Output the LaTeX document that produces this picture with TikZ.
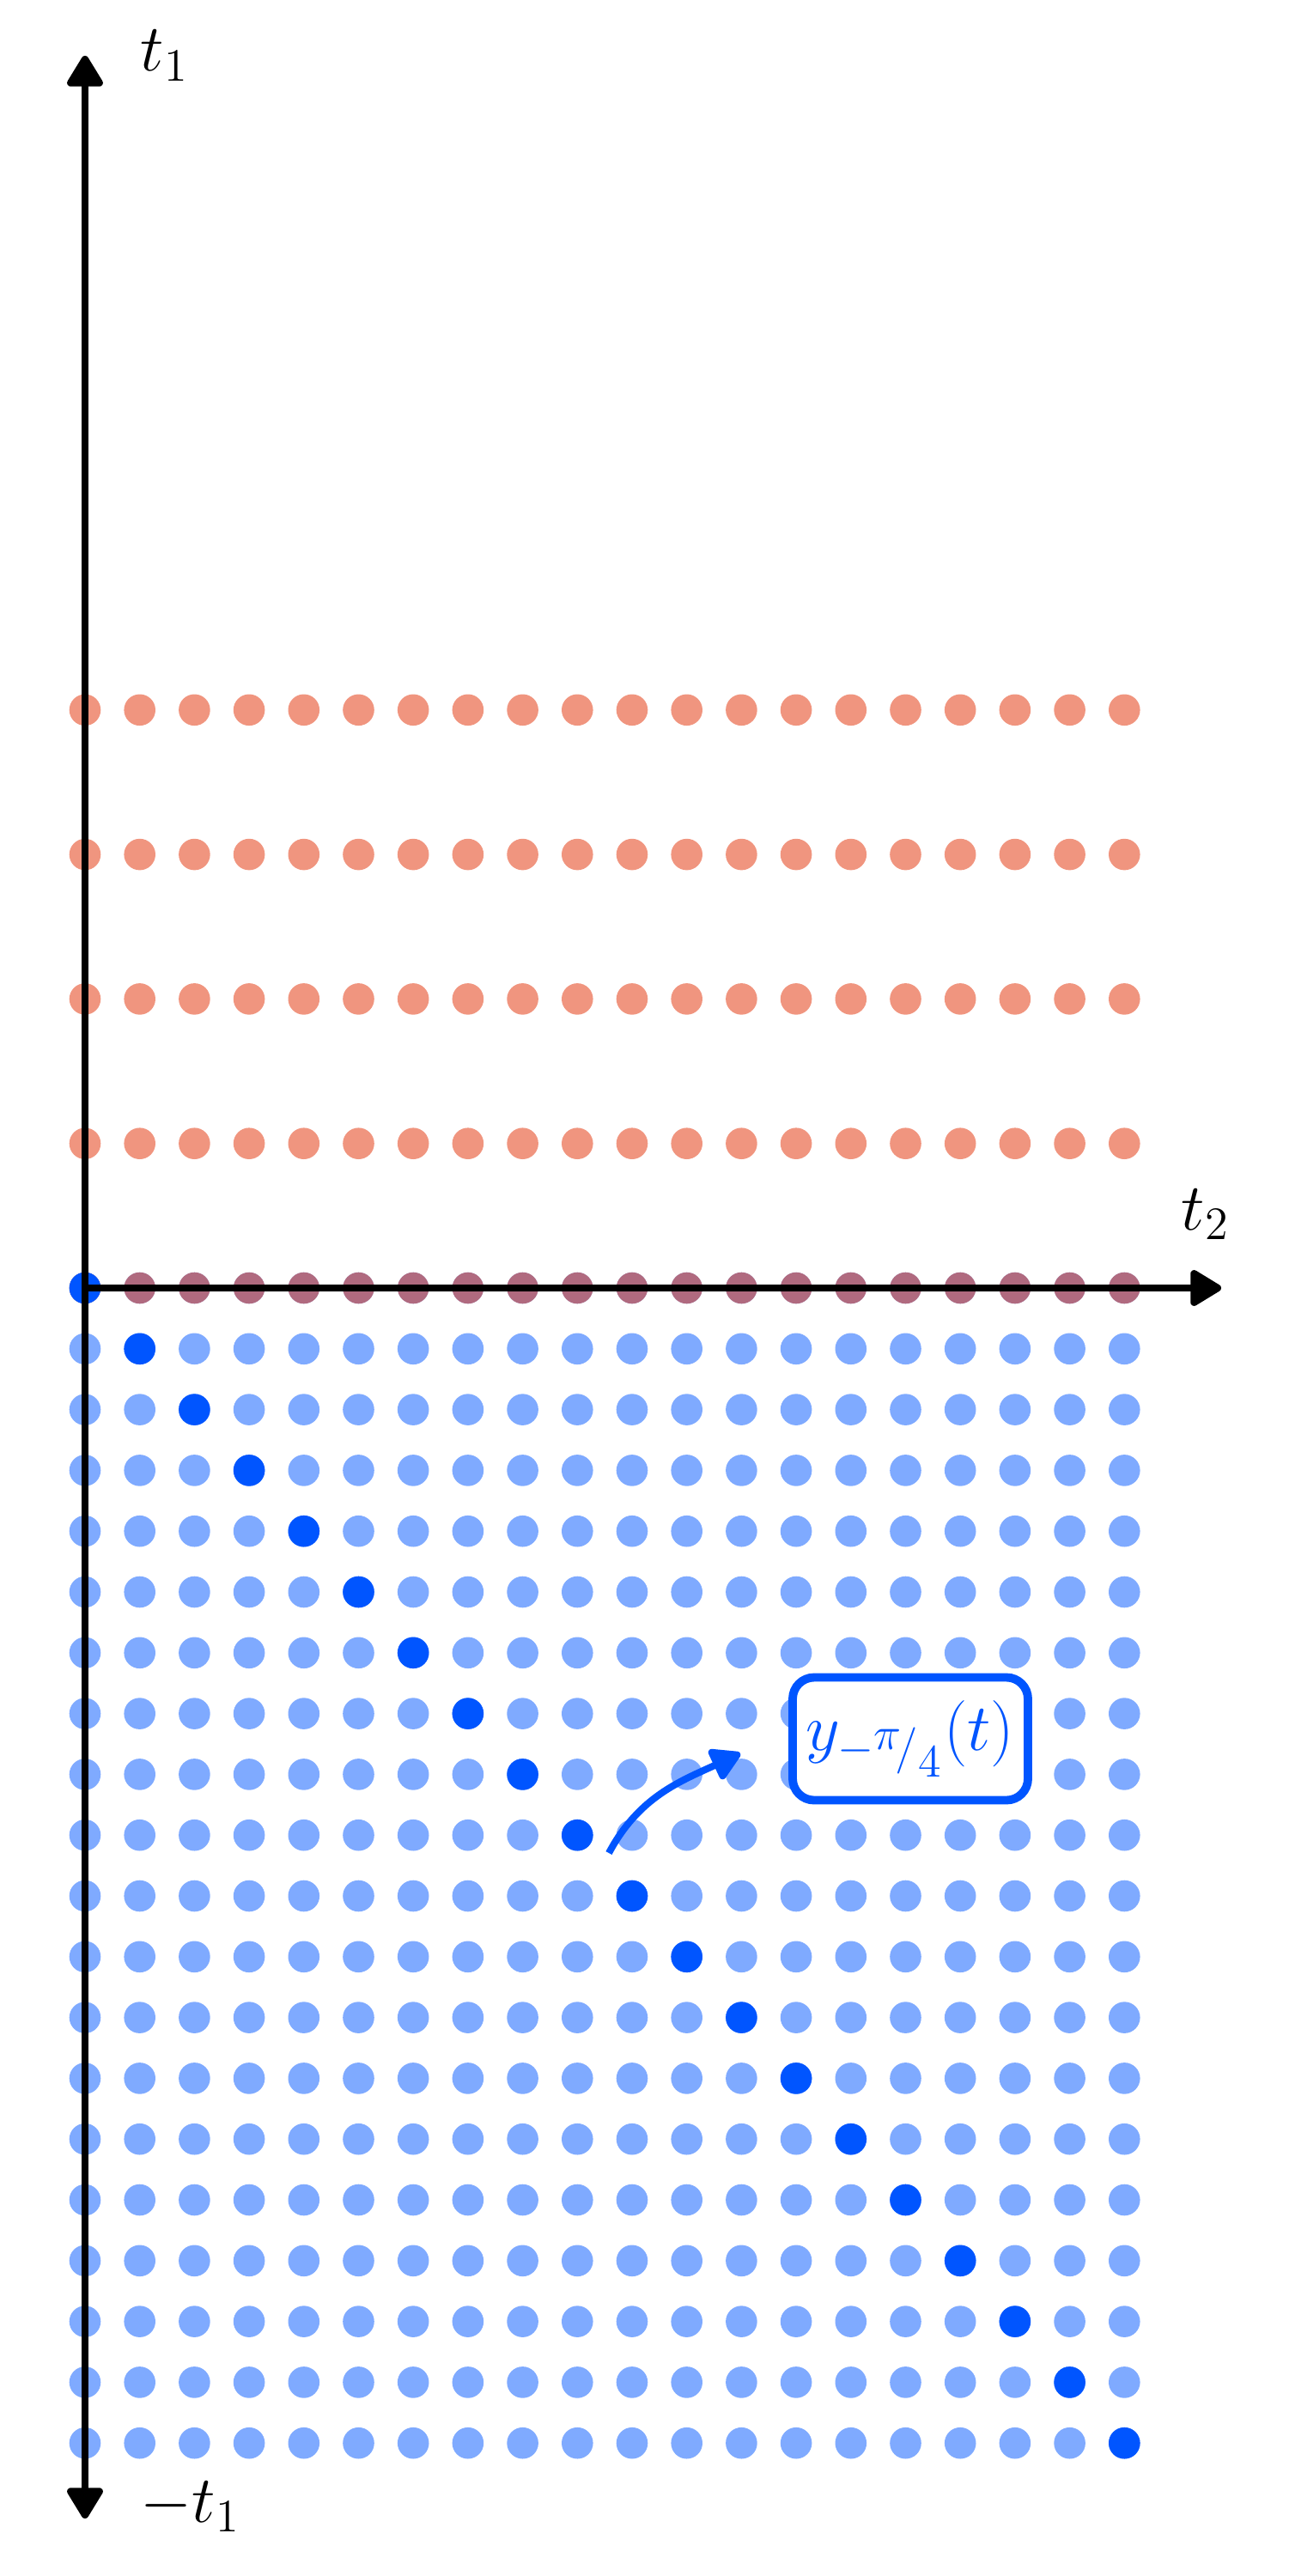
\documentclass[tikz,border=0pt]{standalone}
\usepackage{fix-cm}
\usepackage{tikz}
\usetikzlibrary{arrows.meta}
\definecolor{yblue}{HTML}{0055FF}
\definecolor{tred}{HTML}{E22B00}
\tikzset{
  lightdot/.style={fill=yblue, fill opacity=0.5},
  reddot/.style={fill=tred, fill opacity=0.5},
  darkdot/.style={fill=yblue},
  axisarr/.style={-{Triangle[round, length=4mm, width=4.6mm]}, line width=2.4pt},
  axislabel/.style={anchor=base west, inner sep=0pt, font=\fontsize{22}{26}\selectfont},
  ybox/.style={draw=yblue, line width=2.8pt, fill=white, rounded corners=2.5mm,
               minimum width=2.74cm, minimum height=1.43cm, text=yblue,
               font=\fontsize{22}{26}\selectfont},
  yarr/.style={-{Triangle[round, length=3.8mm, width=4.2mm]}, line width=2.3pt, color=yblue}}
\begin{document}
\begin{tikzpicture}
  \useasboundingbox (0,0) rectangle (15,-30);
  \coordinate (O) at (0.99,-15);
  \coordinate (top) at (0.99,-0.65);
  \coordinate (bot) at (0.99,-29.33);
  \coordinate (right) at (14.22,-15);
  % grid below the t2 axis
  \foreach \i in {0,...,19}
    \foreach \j in {0,...,19}
      \fill[lightdot] ({0.99+0.637*\j},{-15-0.708*\i}) circle (0.183);
  % rows above, the lowest one on the axis
  \foreach \k in {0,...,4}
    \foreach \j in {0,...,19}
      \fill[reddot] ({0.99+0.637*\j},{-15+1.683*\k}) circle (0.183);
  % the diagonal
  \foreach \i in {0,...,19}
    \fill[darkdot] ({0.99+0.637*\i},{-15-0.708*\i}) circle (0.183);
  \draw[axisarr] (O) -- (top);
  \draw[axisarr] (O) -- (bot);
  \draw[axisarr] (O) -- (right);
  \node[axislabel] (t1) at (1.63,-0.83) {$t_1$};
  \node[axislabel] (mt1) at (1.63,-29.37) {$-t_1$};
  \node[axislabel] (t2) at (13.75,-14.32) {$t_2$};
  \node[ybox] (ylab) at (10.60,-20.25)
    {$y_{-{}^{\scriptstyle\pi}\!/_{\scriptstyle 4}}(t)$};
  \coordinate (ystart) at (7.09,-21.58);
  \coordinate (yend) at (8.62,-20.42);
  \draw[yarr] (ystart) to[out=62, in=205] (yend);
\end{tikzpicture}
\end{document}
